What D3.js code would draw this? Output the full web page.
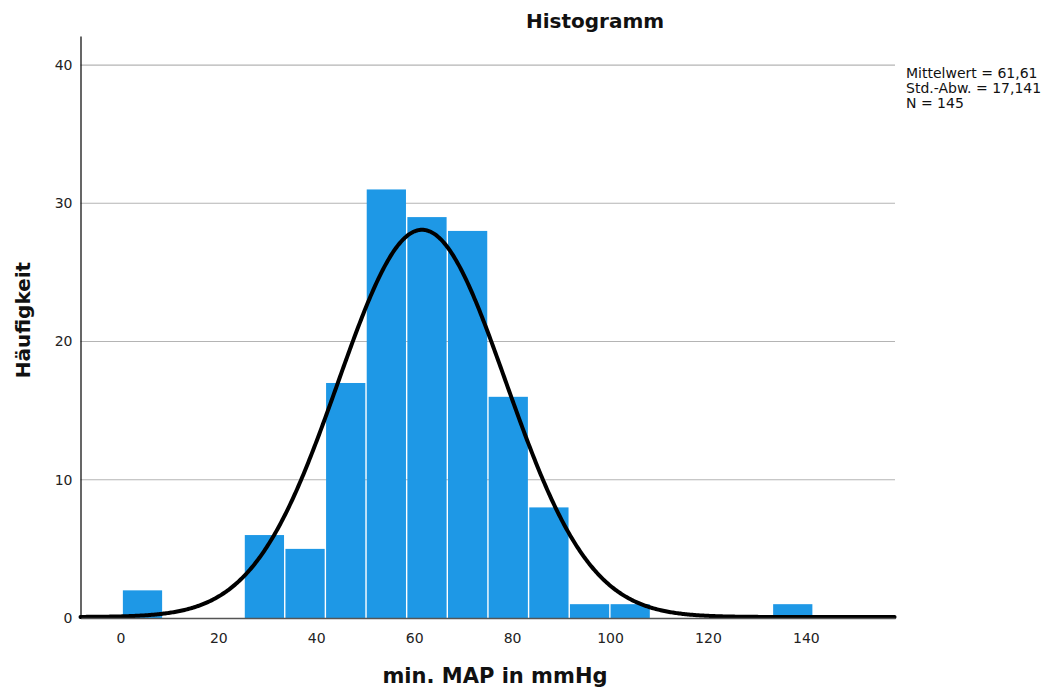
<!DOCTYPE html>
<html>
<head>
<meta charset="utf-8">
<script src="https://cdn.jsdelivr.net/npm/d3@7"></script>
<style>
  html, body { margin: 0; padding: 0; background: #fff; }
  svg { display: block; font-family: "DejaVu Sans", sans-serif; }
</style>
</head>
<body>
<svg id="chart" width="1059" height="691"></svg>
<script>
// Histogram of minimum MAP (mmHg) with fitted normal curve
const binStart = 0.37;
const binWidth = 8.3;
const counts = [2, 0, 0, 6, 5, 17, 31, 29, 28, 16, 8, 1, 1, 0, 0, 0, 1];
const xTicks = [0, 20, 40, 60, 80, 100, 120, 140];
const yTicks = [0, 10, 20, 30, 40];
const stats = { mean: 61.61, sd: 17.141, n: 145 };
const legendLines = ["Mittelwert = 61,61", "Std.-Abw. = 17,141", "N = 145"];

const bins = counts.map((c, i) => ({
  x0: binStart + i * binWidth,
  x1: binStart + (i + 1) * binWidth,
  count: c
}));

const svg = d3.select("#chart");
const x = d3.scaleLinear().domain([-8.14, 158.2]).range([80.5, 895]);
const y = d3.scaleLinear().domain([0, 42.1]).range([618, 36]);

// grid lines
svg.append("g")
  .selectAll("line")
  .data(yTicks.filter(d => d > 0))
  .join("line")
  .attr("x1", x.range()[0]).attr("x2", x.range()[1])
  .attr("y1", d => y(d)).attr("y2", d => y(d))
  .attr("stroke", "#b4b4b4").attr("stroke-width", 1.2);

// bars
svg.append("g")
  .selectAll("rect")
  .data(bins.filter(b => b.count > 0))
  .join("rect")
  .attr("x", d => x(d.x0) + 0.7)
  .attr("width", d => x(d.x1) - x(d.x0) - 1.4)
  .attr("y", d => y(d.count))
  .attr("height", d => y(0) - y(d.count))
  .attr("fill", "#1e98e6");

// normal curve scaled to counts
const pdf = v => stats.n * binWidth / (stats.sd * Math.sqrt(2 * Math.PI)) *
  Math.exp(-0.5 * Math.pow((v - stats.mean) / stats.sd, 2));
const curvePts = d3.range(x.domain()[0], x.domain()[1] + 0.01, 0.25);
svg.append("path")
  .datum(curvePts)
  .attr("fill", "none")
  .attr("stroke", "#000")
  .attr("stroke-width", 4)
  .attr("stroke-linecap", "round")
  .attr("d", d3.line().x(d => x(d)).y(d => y(pdf(d)) - 1));

// x axis
const xAxis = svg.append("g")
  .attr("transform", `translate(0,${y(0)})`)
  .call(d3.axisBottom(x).tickValues(xTicks).tickSize(0).tickPadding(15));
xAxis.select(".domain").attr("stroke", "#555").attr("stroke-width", 1.5);
xAxis.selectAll("text").attr("font-size", 14).attr("fill", "#222")
  .attr("font-family", "DejaVu Sans, sans-serif");

// y axis
const yAxis = svg.append("g")
  .attr("transform", `translate(${x.range()[0]},0)`)
  .call(d3.axisLeft(y).tickValues(yTicks).tickSize(0).tickPadding(8));
yAxis.select(".domain").attr("stroke", "#000").attr("stroke-width", 1.2);
yAxis.selectAll("text").attr("font-size", 14).attr("fill", "#222")
  .attr("font-family", "DejaVu Sans, sans-serif");

// title
svg.append("text")
  .attr("x", 595).attr("y", 28)
  .attr("text-anchor", "middle")
  .attr("font-size", 20).attr("font-weight", "bold")
  .attr("fill", "#111")
  .text("Histogramm");

// axis titles
svg.append("text")
  .attr("x", 495).attr("y", 683)
  .attr("text-anchor", "middle")
  .attr("font-size", 21).attr("font-weight", "bold")
  .attr("fill", "#111")
  .text("min. MAP in mmHg");

svg.append("text")
  .attr("transform", "translate(30,320) rotate(-90)")
  .attr("text-anchor", "middle")
  .attr("font-size", 20).attr("font-weight", "bold")
  .attr("fill", "#111")
  .text("Häufigkeit");

// statistics box
svg.append("g")
  .selectAll("text")
  .data(legendLines)
  .join("text")
  .attr("x", 906)
  .attr("y", (d, i) => 78 + i * 15)
  .attr("font-size", 14)
  .attr("fill", "#111")
  .text(d => d);
</script>
</body>
</html>
